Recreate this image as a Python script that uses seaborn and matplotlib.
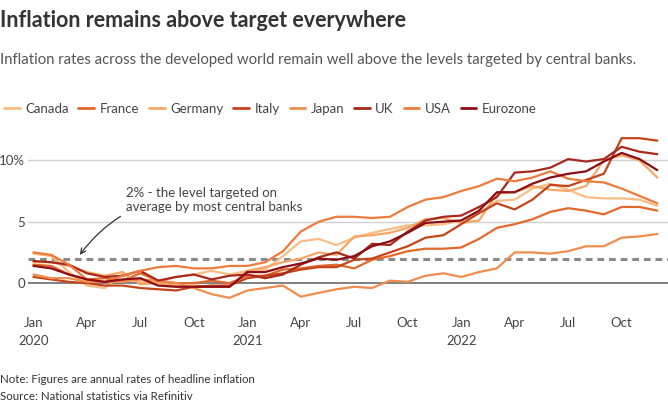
import numpy as np
import pandas as pd
import matplotlib
matplotlib.use("Agg")
import matplotlib.pyplot as plt
import seaborn as sns

# ---------------------------------------------------------------------------
# Data: monthly annual headline inflation, Jan 2020 - Dec 2022 (%)
# ---------------------------------------------------------------------------
canada = [2.4, 2.2, 0.9, -0.2, -0.4, 0.7, 0.1, 0.1, 0.5, 0.7, 1.0, 0.7,
          1.0, 1.1, 2.2, 3.4, 3.6, 3.1, 3.7, 4.1, 4.4, 4.7, 4.7, 4.8,
          5.1, 5.7, 6.7, 6.8, 7.7, 8.1, 7.6, 7.0, 6.9, 6.9, 6.8, 6.3]
france = [1.5, 1.4, 0.7, 0.3, 0.4, 0.2, 0.8, 0.2, 0.0, 0.0, 0.2, 0.0,
          0.6, 0.6, 1.1, 1.2, 1.4, 1.5, 1.2, 1.9, 2.2, 2.6, 2.8, 2.8,
          2.9, 3.6, 4.5, 4.8, 5.2, 5.8, 6.1, 5.9, 5.6, 6.2, 6.2, 5.9]
germany = [1.7, 1.7, 1.4, 0.9, 0.6, 0.9, -0.1, 0.0, -0.2, -0.2, -0.3, -0.3,
           1.0, 1.3, 1.7, 2.0, 2.5, 2.3, 3.8, 3.9, 4.1, 4.5, 5.2, 5.3,
           4.9, 5.1, 7.3, 7.4, 7.9, 7.6, 7.5, 7.9, 10.0, 10.4, 10.0, 8.6]
italy = [0.5, 0.3, 0.1, 0.0, -0.2, -0.2, -0.4, -0.5, -0.6, -0.3, -0.2, -0.2,
         0.4, 0.6, 0.8, 1.1, 1.3, 1.3, 1.9, 2.0, 2.5, 3.0, 3.7, 3.9,
         4.8, 5.7, 6.5, 6.0, 6.8, 8.0, 7.9, 8.4, 8.9, 11.8, 11.8, 11.6]
japan = [0.7, 0.4, 0.4, 0.1, 0.1, 0.1, 0.3, 0.2, 0.0, -0.4, -0.9, -1.2,
         -0.6, -0.4, -0.2, -1.1, -0.8, -0.5, -0.3, -0.4, 0.2, 0.1, 0.6, 0.8,
         0.5, 0.9, 1.2, 2.5, 2.5, 2.4, 2.6, 3.0, 3.0, 3.7, 3.8, 4.0]
uk = [1.8, 1.7, 1.5, 0.8, 0.5, 0.6, 1.0, 0.2, 0.5, 0.7, 0.3, 0.6,
      0.7, 0.4, 0.7, 1.5, 2.1, 2.5, 2.0, 3.2, 3.1, 4.2, 5.1, 5.4,
      5.5, 6.2, 7.0, 9.0, 9.1, 9.4, 10.1, 9.9, 10.1, 11.1, 10.7, 10.5]
usa = [2.5, 2.3, 1.5, 0.3, 0.1, 0.6, 1.0, 1.3, 1.4, 1.2, 1.2, 1.4,
       1.4, 1.7, 2.6, 4.2, 5.0, 5.4, 5.4, 5.3, 5.4, 6.2, 6.8, 7.0,
       7.5, 7.9, 8.5, 8.3, 8.6, 9.1, 8.5, 8.3, 8.2, 7.7, 7.1, 6.5]
eurozone = [1.4, 1.2, 0.7, 0.3, 0.1, 0.3, 0.4, -0.2, -0.3, -0.3, -0.3, -0.3,
            0.9, 0.9, 1.3, 1.6, 2.0, 1.9, 2.2, 3.0, 3.4, 4.1, 4.9, 5.0,
            5.1, 5.9, 7.4, 7.4, 8.1, 8.6, 8.9, 9.1, 9.9, 10.6, 10.1, 9.2]

countries = ["Canada", "France", "Germany", "Italy", "Japan", "UK", "USA", "Eurozone"]
series = [canada, france, germany, italy, japan, uk, usa, eurozone]
colors = ["#f9bd84", "#e2692a", "#f6a765", "#c5441a", "#f08c4e", "#a8291c", "#ee7a3c", "#8c0d14"]

x_ticks = [0, 3, 6, 9, 12, 15, 18, 21, 24, 27, 30, 33]
x_labels = ["Jan\n2020", "Apr", "Jul", "Oct", "Jan\n2021", "Apr", "Jul", "Oct",
            "Jan\n2022", "Apr", "Jul", "Oct"]
TARGET = 2

rows = []
for name, vals in zip(countries, series):
    for i, v in enumerate(vals):
        rows.append({"month": i, "rate": v, "country": name})
df = pd.DataFrame(rows)

# ---------------------------------------------------------------------------
# Plot
# ---------------------------------------------------------------------------
sns.set_style("white")
plt.rcParams["font.family"] = ["Lato", "DejaVu Sans"]

fig = plt.figure(figsize=(6.68, 4.05), dpi=100)
ax = fig.add_axes([0.042, 0.21, 0.958, 0.47])

for y, c, lw in [(5, "#d0d0d0", 1), (10, "#d0d0d0", 1), (0, "#808080", 1.4)]:
    ax.axhline(y, color=c, lw=lw, zorder=0)
ax.axhline(TARGET, color="#8a8a8a", lw=2.2, ls=(0, (2.2, 1.6)), zorder=1)

sns.lineplot(data=df, x="month", y="rate", hue="country", palette=colors,
             hue_order=countries, lw=1.6, ax=ax, legend=False, zorder=2)

ax.set_xlim(-0.3, 35.6)
ax.set_ylim(-3, 12.5)
ax.set_xticks(x_ticks)
ax.set_xticklabels(x_labels, fontsize=9.5, color="#444444", ha="center", linespacing=1.6)
ax.set_yticks([0, 5, 10])
ax.set_yticklabels(["0", "5", "10%"], fontsize=9.5, color="#444444")
ax.tick_params(length=0, pad=2)
ax.tick_params(axis="x", pad=-2)
for lbl in ax.get_yticklabels():
    lbl.set_ha("right")
ax.set_xlabel("")
ax.set_ylabel("")
sns.despine(ax=ax, left=True, bottom=True)

ax.annotate("2% - the level targeted on\naverage by most central banks",
            xy=(2.6, 2.3), xytext=(5.2, 6.8), fontsize=9.5, color="#444444",
            va="center", ha="left", linespacing=1.2,
            arrowprops=dict(arrowstyle="->", color="#333333", lw=0.9,
                            connectionstyle="arc3,rad=0.3",
                            shrinkA=2, shrinkB=0))

# Legend built by hand as a row of line swatches
handles = [plt.Line2D([], [], color=c, lw=2) for c in colors]
fig.legend(handles, countries, loc="upper left", bbox_to_anchor=(-0.012, 0.775),
           ncol=8, frameon=False, fontsize=9.5, handlelength=1.2,
           handletextpad=0.4, columnspacing=0.75, labelcolor="#444444")

fig.text(0.0, 0.975, "Inflation remains above target everywhere", fontsize=15.5,
         fontweight="bold", color="#333333", va="top")
fig.text(0.0, 0.87, "Inflation rates across the developed world remain well above the "
         "levels targeted by central banks.", fontsize=10.7, color="#555555", va="top")
fig.text(0.0, 0.05, "Note: Figures are annual rates of headline inflation",
         fontsize=8.3, color="#333333", va="bottom")
fig.text(0.0, 0.008, "Source: National statistics via Refinitiv",
         fontsize=8.3, color="#333333", va="bottom")

fig.savefig("out.png", dpi=100)
